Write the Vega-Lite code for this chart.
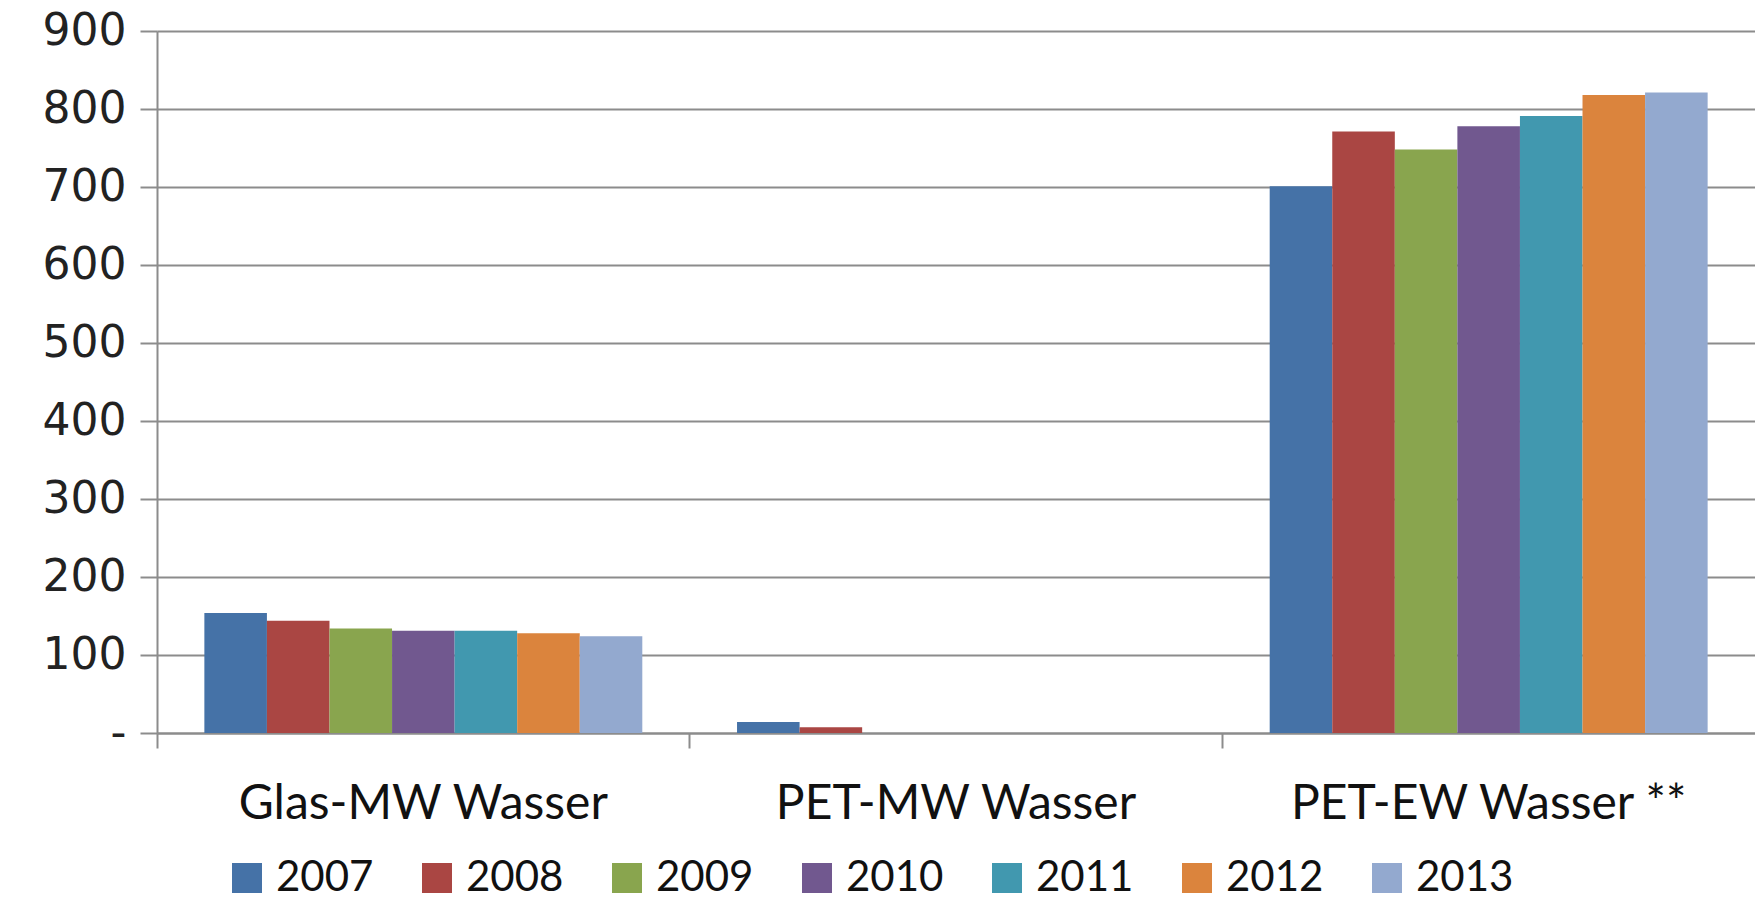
{
  "$schema": "https://vega.github.io/schema/vega-lite/v6.json",
  "autosize": {"type": "none"},
  "width": 1598,
  "height": 702,
  "padding": {"left": 157, "top": 31, "right": 0, "bottom": 172},
  "background": "white",
  "data": {
    "values": [
      {"kategorie": "Glas-MW Wasser", "jahr": "2007", "wert": 154},
      {"kategorie": "Glas-MW Wasser", "jahr": "2008", "wert": 144},
      {"kategorie": "Glas-MW Wasser", "jahr": "2009", "wert": 134},
      {"kategorie": "Glas-MW Wasser", "jahr": "2010", "wert": 131},
      {"kategorie": "Glas-MW Wasser", "jahr": "2011", "wert": 131},
      {"kategorie": "Glas-MW Wasser", "jahr": "2012", "wert": 128},
      {"kategorie": "Glas-MW Wasser", "jahr": "2013", "wert": 124},
      {"kategorie": "PET-MW Wasser", "jahr": "2007", "wert": 14},
      {"kategorie": "PET-MW Wasser", "jahr": "2008", "wert": 7.5},
      {"kategorie": "PET-MW Wasser", "jahr": "2009", "wert": 0},
      {"kategorie": "PET-MW Wasser", "jahr": "2010", "wert": 0},
      {"kategorie": "PET-MW Wasser", "jahr": "2011", "wert": 0},
      {"kategorie": "PET-MW Wasser", "jahr": "2012", "wert": 0},
      {"kategorie": "PET-MW Wasser", "jahr": "2013", "wert": 0},
      {"kategorie": "PET-EW Wasser **", "jahr": "2007", "wert": 701},
      {"kategorie": "PET-EW Wasser **", "jahr": "2008", "wert": 771},
      {"kategorie": "PET-EW Wasser **", "jahr": "2009", "wert": 748},
      {"kategorie": "PET-EW Wasser **", "jahr": "2010", "wert": 778},
      {"kategorie": "PET-EW Wasser **", "jahr": "2011", "wert": 791},
      {"kategorie": "PET-EW Wasser **", "jahr": "2012", "wert": 818},
      {"kategorie": "PET-EW Wasser **", "jahr": "2013", "wert": 821}
    ]
  },
  "mark": {"type": "bar"},
  "encoding": {
    "x": {
      "field": "kategorie",
      "type": "nominal",
      "sort": ["Glas-MW Wasser", "PET-MW Wasser", "PET-EW Wasser **"],
      "scale": {"paddingInner": 0, "paddingOuter": 0},
      "axis": {
        "title": null,
        "labelAngle": 0,
        "bandPosition": 0,
        "ticks": true,
        "tickSize": 15,
        "tickWidth": 2,
        "tickColor": "#8c8c8c",
        "domainColor": "#8c8c8c",
        "domainWidth": 2,
        "labelFont": "Lato",
        "labelFontSize": 48,
        "labelLimit": 0,
        "labelColor": "#111111",
        "labelPadding": 32,
        "labelBaseline": "top",
        "grid": false
      }
    },
    "xOffset": {
      "field": "jahr",
      "type": "nominal",
      "scale": {"paddingInner": 0, "paddingOuter": 0.757}
    },
    "y": {
      "field": "wert",
      "type": "quantitative",
      "scale": {"domain": [0, 900], "nice": false},
      "axis": {
        "title": null,
        "values": [0, 100, 200, 300, 400, 500, 600, 700, 800, 900],
        "labelExpr": "datum.value == 0 ? '-' : datum.label",
        "labelFont": "DejaVu Sans",
        "labelFontSize": 44,
        "labelColor": "#222222",
        "labelPadding": 14,
        "tickSize": 17,
        "tickWidth": 2,
        "tickColor": "#8c8c8c",
        "domainColor": "#8c8c8c",
        "domainWidth": 2,
        "gridColor": "#8c8c8c",
        "gridWidth": 2
      }
    },
    "color": {
      "field": "jahr",
      "type": "nominal",
      "scale": {
        "domain": ["2007", "2008", "2009", "2010", "2011", "2012", "2013"],
        "range": ["#4572A7", "#AA4643", "#89A54E", "#71588F", "#4198AF", "#DB843D", "#93A9CF"]
      },
      "legend": {
        "title": null,
        "orient": "none",
        "legendX": 69,
        "legendY": 826,
        "direction": "horizontal",
        "symbolType": "square",
        "symbolSize": 900,
        "symbolStrokeWidth": 0,
        "labelFont": "Lato",
        "labelFontSize": 42,
        "labelColor": "#111111",
        "labelOffset": 8,
        "columnPadding": 42
      }
    }
  },
  "config": {
    "view": {"stroke": null},
    "bar": {"stroke": null}
  }
}
